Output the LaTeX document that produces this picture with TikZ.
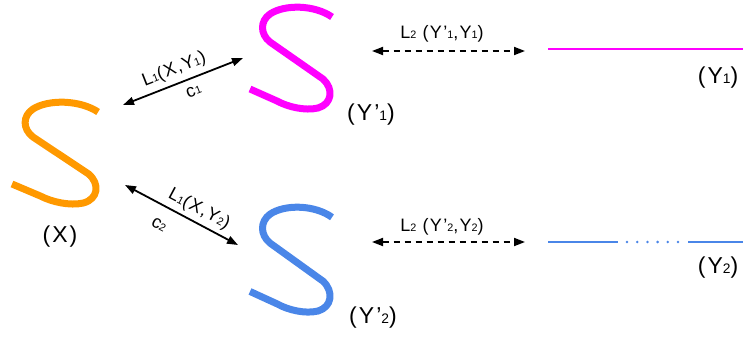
\documentclass[tikz,border=0pt]{standalone}
\usepackage{fontspec}
\setmainfont{Liberation Sans}
\usetikzlibrary{arrows.meta}
\definecolor{sorange}{RGB}{255,153,0}
\definecolor{smag}{RGB}{255,0,255}
\definecolor{sblue}{RGB}{74,134,232}
\newcommand\sbs[1]{\scalebox{0.6}{#1}}
\tikzset{
  sshape/.pic={\draw[line width=7pt, line cap=butt, line join=round, pic actions]
    (82,10) .. controls (65,-2) and (35,-3) .. (20,7)
    .. controls (10,14) and (10,27) .. (20,35)
    -- (73,72)
    .. controls (84,82) and (82,97) .. (68,101)
    .. controls (55,104) and (38,100) .. (27,94)
    -- (0,82);},
  lbl/.style={font=\fontsize{23}{27}\selectfont\addfontfeature{LetterSpace=9}, inner sep=0pt},
  alb/.style={font=\fontsize{18}{21}\selectfont\addfontfeature{LetterSpace=7}, inner sep=0pt},
  dlb/.style={font=\fontsize{18}{21}\selectfont\addfontfeature{LetterSpace=7}, inner sep=0pt},
  arr/.style={line width=1.8pt, {Triangle[length=11pt,width=8pt]}-{Triangle[length=11pt,width=8pt]}},
  darr/.style={arr, dash pattern=on 6pt off 5pt},
}
\begin{document}
\begin{tikzpicture}[x=1pt,y=-1pt]
\useasboundingbox (0,0) rectangle (743,337);
% S shapes
\pic[color=sorange, xscale=1.05] (sx) at (12,102) {sshape};
\pic[color=smag] (sy1) at (250,7) {sshape};
\pic[color=sblue, yscale=1.03] (sy2) at (250,207) {sshape};
% labels
\node[lbl] (X) at (60,237) {(X)};
\node[lbl] (Yp1) at (371,115) {(Y’\sbs{1})};
\node[lbl] (Yp2) at (373,318) {(Y’\sbs{2})};
\node[lbl] (Y1) at (718,78) {(Y\sbs{1})};
\node[lbl] (Y2) at (718,268) {(Y\sbs{2})};
% solid arrows
\coordinate (a1s) at (123,105);
\coordinate (a1e) at (243,58);
\draw[arr] (a1s) -- node[alb, sloped, above=5pt, pos=0.47] {L\sbs{1}(X,Y\sbs{1})} node[alb, sloped, below=7pt, pos=0.55] {c\sbs{1}} (a1e);
\coordinate (a2s) at (125,185);
\coordinate (a2e) at (238,245);
\draw[arr] (a2s) -- node[alb, sloped, above=4pt, pos=0.6] {L\sbs{1}(X,Y\sbs{2})} node[alb, sloped, below=13pt, pos=0.38] {c\sbs{2}} (a2e);
% dashed arrows
\coordinate (d1s) at (372,51);
\coordinate (d1e) at (525,51);
\draw[darr] (d1s) -- (d1e);
\node[dlb] (l21) at (442,34) {L\sbs{2} (Y’\sbs{1},Y\sbs{1})};
\coordinate (d2s) at (372,242);
\coordinate (d2e) at (525,242);
\draw[darr] (d2s) -- (d2e);
\node[dlb] (l22) at (442,227) {L\sbs{2} (Y’\sbs{2},Y\sbs{2})};
% Y lines
\coordinate (m1) at (548,49);
\coordinate (m2) at (743,49);
\draw[smag, line width=2.5pt] (m1) -- (m2);
\coordinate (b1) at (548,242);
\coordinate (b2) at (618,242);
\coordinate (b3) at (688,242);
\coordinate (b4) at (743,242);
\draw[sblue, line width=2.5pt] (b1) -- (b2);
\draw[sblue, line width=2.5pt] (b3) -- (b4);
\foreach \i in {0,...,5} {\fill[sblue] (627+10.2*\i,242) circle (1.4);}
\end{tikzpicture}
\end{document}
